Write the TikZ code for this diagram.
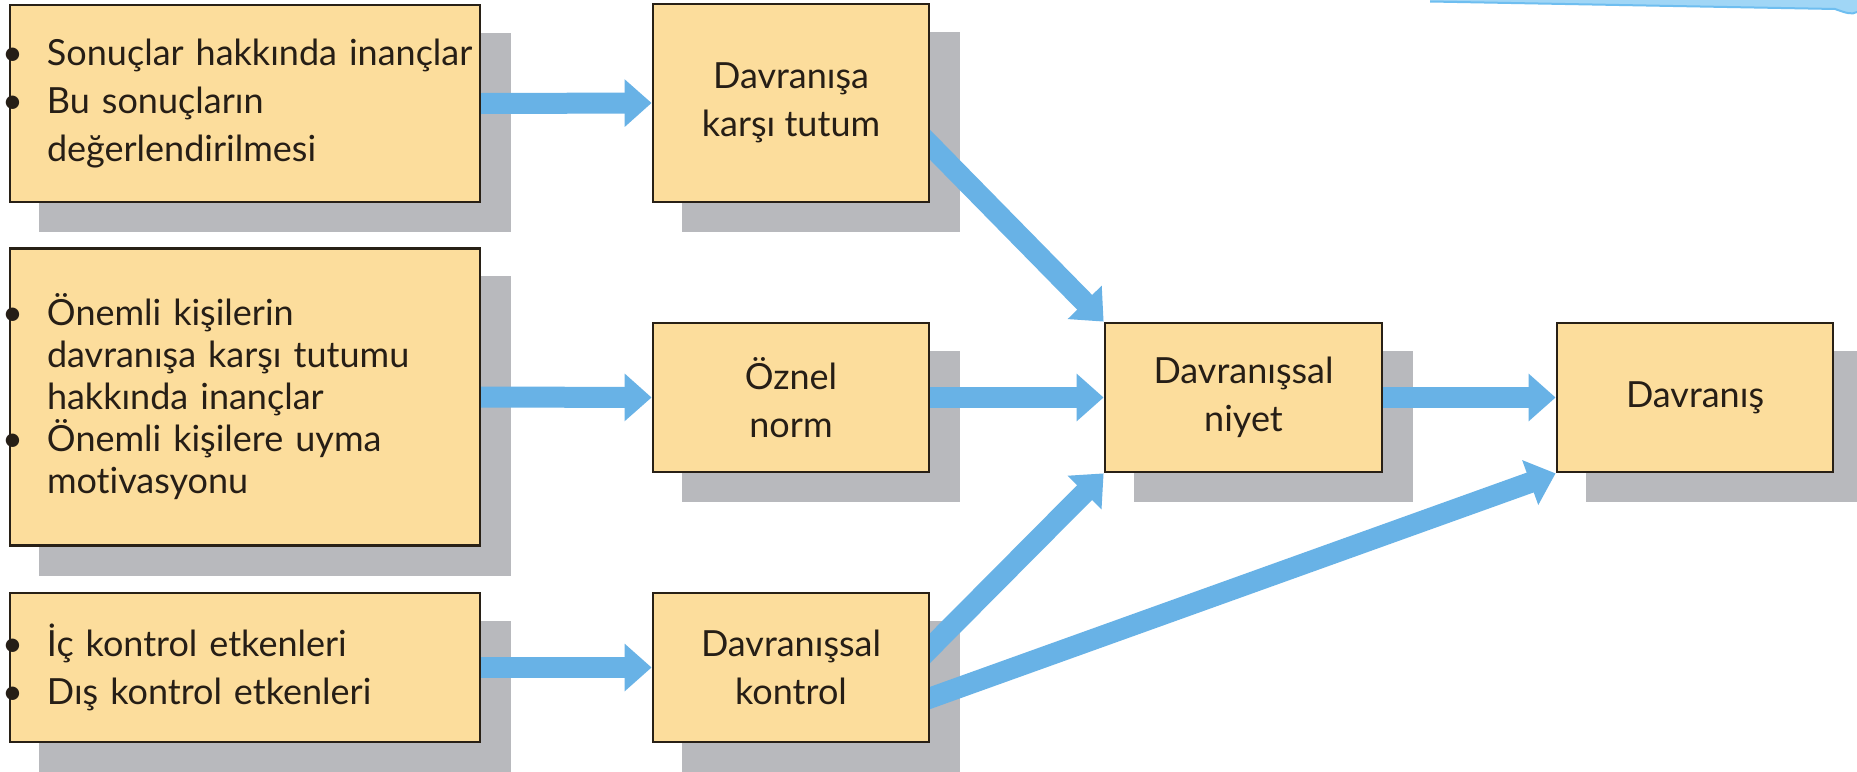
\documentclass[tikz,border=0pt]{standalone}
\usepackage{fontspec}
\setmainfont{Lato}[Ligatures=NoCommon]
\usetikzlibrary{arrows.meta,calc}
\definecolor{boxfill}{RGB}{252,221,156}
\definecolor{boxline}{RGB}{40,32,22}
\definecolor{textcol}{RGB}{38,30,22}
\definecolor{shadowgray}{RGB}{184,185,189}
\definecolor{arrowblue}{RGB}{104,178,230}
\definecolor{topblue}{RGB}{160,214,246}
\definecolor{topedge}{RGB}{110,190,240}
\pgfdeclarelayer{bglayer}
\pgfdeclarelayer{shadowlayer}
\pgfdeclarelayer{arrowlayer}
\pgfsetlayers{bglayer,shadowlayer,arrowlayer,main}
\newcommand{\ind}{\hspace*{37pt}}
\newcommand{\bul}{\hspace*{37pt}\llap{\makebox[20pt][c]{\textbullet}\hspace{24.5pt}}}
\begin{document}
\begin{tikzpicture}[x=1pt,y=-1pt,
  box/.style={draw=boxline, line width=2.8pt, fill=boxfill, inner sep=0pt,
    minimum width=276pt, minimum height=149pt, align=center, text=textcol,
    font=\fontsize{36}{48}\selectfont},
  wbox/.style={box, text width=470pt, align=left},
  flow/.style={draw=arrowblue, line width=21pt, shorten <=-20pt,
    -{Triangle[length=27pt,width=46pt]}},
]
\useasboundingbox (0,0) rectangle (1857,771);
\begin{pgfonlayer}{bglayer}
  \fill[white] (0,0) rectangle (1857,771);
  \fill[topblue] (1430,0) -- (1857,0) -- (1857,12)
     .. controls (1852,15) and (1846,13) .. (1835,9) -- (1430,1.5) -- cycle;
  \draw[topedge, line width=2pt] (1430,1.5) -- (1835,9) .. controls (1846,13) and (1852,15) .. (1857,12);
\end{pgfonlayer}

% left column
\node[wbox, minimum height=197pt] (a1) at (245,103.5)
  {\bul Sonuçlar hakkında inançlar\\\bul Bu sonuçların\\\ind değerlendirilmesi};
\node[wbox, minimum height=297pt, font=\fontsize{36}{42}\selectfont] (a2) at (245,397)
  {\bul Önemli kişilerin\\\ind davranışa karşı tutumu\\\ind hakkında inançlar\\\bul Önemli kişilere uyma\\\ind motivasyonu\\[6pt]};
\node[wbox, minimum height=149pt] (a3) at (245,667.5)
  {\bul İç kontrol etkenleri\\\bul Dış kontrol etkenleri};

% middle column
\node[box, minimum height=198pt] (b1) at (791,103) {Davranışa\\karşı tutum};
\node[box] (b2) at (791,397.5) {Öznel\\norm};
\node[box] (b3) at (791,667.5) {Davranışsal\\kontrol};

% right
\node[box, minimum width=277pt] (c) at (1243.5,397.5) {Davranışsal\\niyet};
\node[box] (d) at (1695,397.5) {Davranış};

\begin{pgfonlayer}{shadowlayer}
  \foreach \n in {a1,a2,a3,b1,b2,b3,c,d}{
    \fill[shadowgray] ($(\n.south west)+(30,29)$) rectangle ($(\n.north east)+(30,29)$);
  }
\end{pgfonlayer}

\begin{pgfonlayer}{arrowlayer}
  \draw[flow] (a1.east) -- (b1.west);
  \draw[flow] (a2.east) -- (b2.west);
  \draw[flow] (a3.east) -- (b3.west);
  \draw[flow] (b2.east) -- (c.west);
  \draw[flow] (c.east) -- (d.west);
  \draw[flow] ($(b1.north east)!0.71!(b1.south east)$) -- (c.north west);
  \draw[flow] ($(b3.north east)!0.37!(b3.south east)$) -- (c.south west);
  \draw[flow] ($(b3.north east)!0.70!(b3.south east)$) -- (d.south west);
\end{pgfonlayer}
\end{tikzpicture}
\end{document}
